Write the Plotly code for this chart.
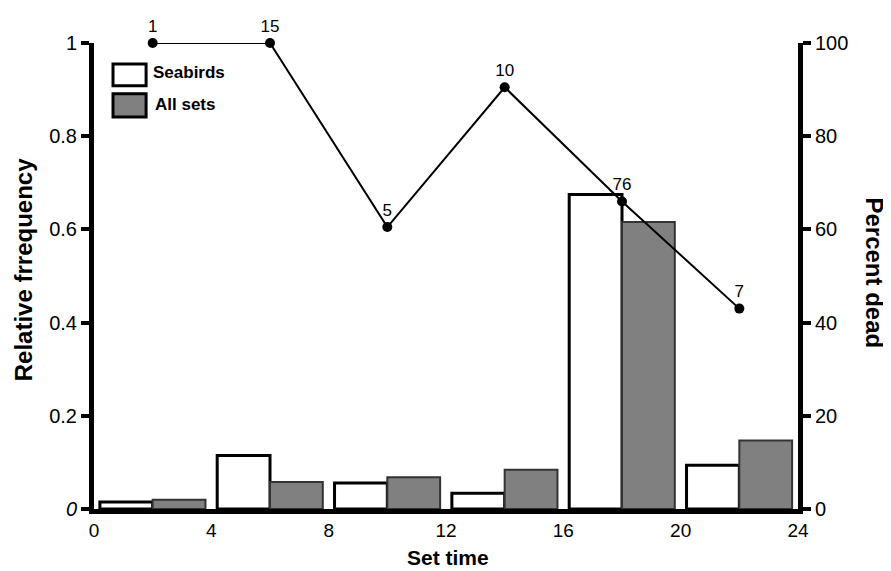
import plotly.graph_objects as go

bin_centers = [2, 6, 10, 14, 18, 22]
seabirds = [0.015, 0.115, 0.056, 0.034, 0.675, 0.094]
all_sets = [0.020, 0.058, 0.068, 0.084, 0.616, 0.147]
percent_dead = [100, 100, 60.5, 90.5, 66, 43]
sample_sizes = ["1", "15", "5", "10", "76", "7"]
x_ticks = [0, 4, 8, 12, 16, 20, 24]
y_ticks = [0, 0.2, 0.4, 0.6, 0.8, 1]
y_tick_text = ["<i>0</i>", "0.2", "0.4", "0.6", "0.8", "1"]
y2_ticks = [0, 20, 40, 60, 80, 100]

FONT = "Liberation Sans, Arial, sans-serif"

fig = go.Figure()
fig.add_trace(go.Bar(x=bin_centers, y=seabirds, name="Seabirds",
                     marker=dict(color="white", line=dict(color="black", width=3)),
                     showlegend=False))
fig.add_trace(go.Bar(x=bin_centers, y=all_sets, name="All sets",
                     marker=dict(color="#808080", line=dict(color="#333333", width=2)),
                     showlegend=False))
fig.add_trace(go.Scatter(x=bin_centers, y=percent_dead, yaxis="y2", mode="lines+markers+text",
                         line=dict(color="black", width=2),
                         marker=dict(color="black", size=10),
                         text=sample_sizes, textposition="top center",
                         textfont=dict(family=FONT, size=17, color="black"),
                         cliponaxis=False, showlegend=False))

axis_common = dict(showline=True, linecolor="black", linewidth=5, ticks="outside",
                   tickwidth=4, ticklen=8, tickcolor="black", showgrid=False, zeroline=False,
                   automargin=False, tickfont=dict(family=FONT, size=20, color="black"))
x_axis_style = dict(axis_common)
x_axis_style.update(ticks="", ticklabelstandoff=0, tickfont=dict(family=FONT, size=19, color="black"))

fig.update_layout(
    width=883, height=563,
    margin=dict(l=86, r=93, t=35, b=62),
    paper_bgcolor="white", plot_bgcolor="white",
    barmode="group", bargap=0.1, bargroupgap=0,
    font=dict(family=FONT, color="black"),
    xaxis=dict(range=[0, 24], tickvals=x_ticks, **x_axis_style),
    yaxis=dict(range=[0, 1], tickvals=y_ticks, ticktext=y_tick_text, **axis_common),
    yaxis2=dict(range=[0, 100], tickvals=y2_ticks, overlaying="y", side="right", **axis_common),
)

TITLE_FONT = dict(family=FONT, size=24, color="black")
fig.add_annotation(text="<b>Set time</b>", xref="paper", yref="paper", x=0.503, y=-0.1035,
                   showarrow=False, font=dict(family=FONT, size=21, color="black"),
                   xanchor="center", yanchor="middle")
fig.add_annotation(text="<b>Relative frrequency</b>", textangle=-90, xref="paper", yref="paper",
                   x=-0.099, y=0.513, showarrow=False, font=TITLE_FONT,
                   xanchor="center", yanchor="middle")
fig.add_annotation(text="<b>Percent dead</b>", textangle=90, xref="paper", yref="paper",
                   x=1.109, y=0.506, showarrow=False, font=TITLE_FONT,
                   xanchor="center", yanchor="middle")

# legend
fig.add_shape(type="rect", xref="paper", yref="paper", x0=0.027, x1=0.074, y0=0.908, y1=0.955,
              line=dict(color="black", width=3), fillcolor="white")
fig.add_shape(type="rect", xref="paper", yref="paper", x0=0.027, x1=0.074, y0=0.841, y1=0.891,
              line=dict(color="black", width=3), fillcolor="#808080")
fig.add_annotation(text="<b>Seabirds</b>", xref="paper", yref="paper", x=0.081, y=0.936,
                   xanchor="left", yanchor="middle", showarrow=False, font=dict(family=FONT, size=17))
fig.add_annotation(text="<b>All sets</b>", xref="paper", yref="paper", x=0.084, y=0.867,
                   xanchor="left", yanchor="middle", showarrow=False, font=dict(family=FONT, size=17))

fig.write_html("out.html")
